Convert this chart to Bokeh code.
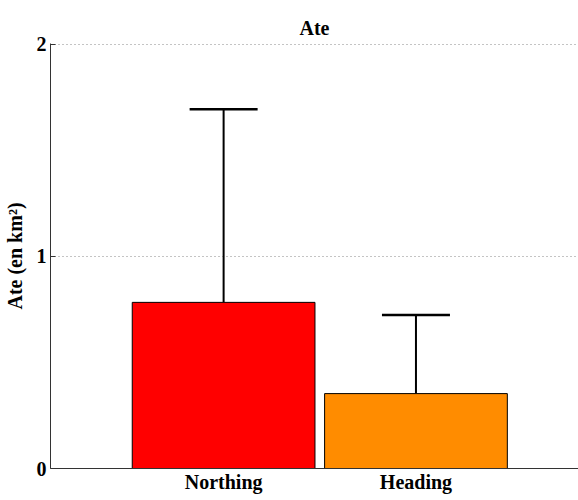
from bokeh.plotting import figure
from bokeh.models import ColumnDataSource, Whisker, TeeHead, FixedTicker, Range1d
from bokeh.embed import file_html
from bokeh.resources import INLINE

categories = ["Northing", "Heading"]
values = [0.783, 0.353]
upper = [1.693, 0.723]
colors = ["#ff0000", "#ff8c00"]
y_ticks = [0, 1, 2]

xs = [i + 1 for i in range(len(categories))]
src = ColumnDataSource(dict(x=xs, top=values, upper=upper, color=colors))

p = figure(width=578, height=500, output_backend="svg", toolbar_location=None,
           x_range=Range1d(0.1, 2.845), y_range=Range1d(0, 2.003),
           min_border_left=49, min_border_right=0, min_border_top=43, min_border_bottom=32)
p.outline_line_color = None
p.background_fill_color = "white"

p.vbar(x="x", top="top", bottom=0, width=0.95, fill_color="color", line_color="black",
       line_width=1, source=src)

w = Whisker(source=src, base="x", lower="top", upper="upper", line_color="black", line_width=2,
            lower_head=None, upper_head=TeeHead(size=68, line_color="black", line_width=2.5))
p.add_layout(w)

p.title.text = "Ate"
p.title.align = "center"
p.title.vertical_align = "top"
p.title.text_font = "Liberation Serif"
p.title.text_font_style = "bold"
p.title.text_font_size = "20px"
p.title.text_color = "black"
p.title.standoff = 6

p.xaxis.ticker = FixedTicker(ticks=xs)
p.xaxis.major_label_overrides = {x: c for x, c in zip(xs, categories)}
p.xaxis.minor_tick_line_color = None
p.yaxis.ticker = FixedTicker(ticks=y_ticks)
p.yaxis.minor_tick_line_color = None
p.yaxis.major_tick_in = 5
p.yaxis.major_tick_out = 0
p.yaxis.axis_label = "Ate (en km²)"

for ax in (p.xaxis[0], p.yaxis[0]):
    ax.axis_line_color = "#333333"
    ax.major_label_text_font = "Liberation Serif"
    ax.major_label_text_font_style = "bold"
    ax.major_label_text_font_size = "20px"
    ax.major_label_text_color = "black"
    ax.axis_label_text_font = "Liberation Serif"
    ax.axis_label_text_font_style = "bold"
    ax.axis_label_text_font_size = "20px"
    ax.axis_label_text_color = "black"

p.xaxis.major_tick_line_color = None
p.xaxis.major_tick_out = 0
p.xaxis.major_tick_in = 0
p.yaxis.major_tick_line_color = "#333333"
p.yaxis.major_label_standoff = 4
p.yaxis.axis_label_standoff = 8
p.xaxis.major_label_standoff = 2

p.xgrid.grid_line_color = None
p.ygrid.grid_line_color = "#888888"
p.ygrid.grid_line_dash = "1 3"
p.ygrid.grid_line_width = 1

open("out.html", "w").write(file_html(p, INLINE))
